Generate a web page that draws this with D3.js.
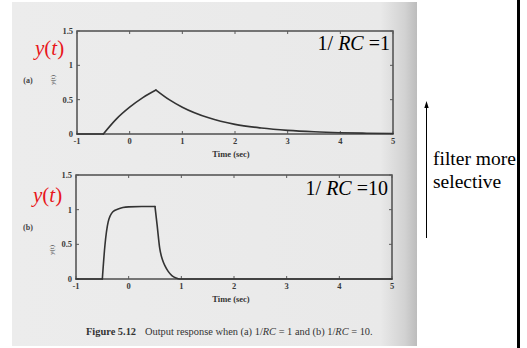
<!DOCTYPE html>
<html>
<head>
<meta charset="utf-8">
<script src="https://cdn.jsdelivr.net/npm/d3@7"></script>
<style>
  html, body { margin: 0; padding: 0; background: #fff; }
  svg { display: block; }
</style>
</head>
<body>
<svg id="chart" width="527" height="348"></svg>
<script>
// x ticks (time, sec) and y ticks shared by both panels
const xTicks = [-1, 0, 1, 2, 3, 4, 5];
const yTicks = [0, 0.5, 1, 1.5];
// input pulse edges: the response has a corner at each
const pulseEdges = [-0.5, 0.5];

// (a) 1/RC = 1
const timeA = [-1, -0.5, -0.25, 0, 0.25, 0.5, 0.75, 1, 1.5, 2, 2.5, 3, 3.5, 4, 4.5, 5];
const outA  = [0, 0, 0.22, 0.39, 0.53, 0.64, 0.50, 0.39, 0.235, 0.14, 0.087, 0.053, 0.032, 0.019, 0.012, 0.007];

// (b) 1/RC = 10
const timeB = [-1, -0.5, -0.45, -0.39, -0.3, -0.2, -0.11, 0, 0.25, 0.5, 0.54, 0.59, 0.64, 0.69, 0.75, 0.82, 0.9, 0.97, 5];
const outB  = [0, 0, 0.49, 0.82, 0.97, 1.01, 1.03, 1.04, 1.045, 1.045, 0.78, 0.44, 0.28, 0.19, 0.11, 0.05, 0.015, 0, 0];

const svg = d3.select('#chart');

// scanned page background with spine shadow
const defs = svg.append('defs');
const grad = defs.append('linearGradient').attr('id', 'page').attr('x1', 0).attr('x2', 1);
grad.append('stop').attr('offset', '0%').attr('stop-color', '#ececec');
grad.append('stop').attr('offset', '91%').attr('stop-color', '#e9e9e9');
grad.append('stop').attr('offset', '97%').attr('stop-color', '#d2d2d2');
grad.append('stop').attr('offset', '100%').attr('stop-color', '#bcbcbc');

svg.append('rect')
  .attr('x', 12).attr('y', 2)
  .attr('width', 405).attr('height', 344)
  .attr('fill', 'url(#page)');

const panels = [
  { time: timeA, out: outA, x: [77, 393], y: [134, 31], tag: '(a)', tagY: 80, labY: 80,
    red: [35, 55], note: '1/ RC =1', noteX: 390, noteY: 50 },
  { time: timeB, out: outB, x: [76, 392], y: [279, 175], tag: '(b)', tagY: 227, labY: 250,
    red: [33, 202], note: '1/ RC =10', noteX: 388, noteY: 195 }
];

const serif = '"Liberation Serif", "DejaVu Serif", serif';

panels.forEach(p => {
  const x = d3.scaleLinear().domain([-1, 5]).range(p.x);
  const y = d3.scaleLinear().domain([0, 1.5]).range(p.y);
  const g = svg.append('g');

  // frame
  g.append('rect')
    .attr('x', x(-1)).attr('y', y(1.5))
    .attr('width', x(5) - x(-1)).attr('height', y(0) - y(1.5))
    .attr('fill', 'none').attr('stroke', '#4e4e4e').attr('stroke-width', 1.5);

  // inner ticks on all four sides
  const tl = 3;
  xTicks.forEach(t => {
    g.append('line').attr('x1', x(t)).attr('x2', x(t)).attr('y1', y(0)).attr('y2', y(0) - tl)
      .attr('stroke', '#5a5a5a');
    g.append('line').attr('x1', x(t)).attr('x2', x(t)).attr('y1', y(1.5)).attr('y2', y(1.5) + tl)
      .attr('stroke', '#5a5a5a');
  });
  yTicks.forEach(t => {
    g.append('line').attr('x1', x(-1)).attr('x2', x(-1) + tl).attr('y1', y(t)).attr('y2', y(t))
      .attr('stroke', '#5a5a5a');
    g.append('line').attr('x1', x(5)).attr('x2', x(5) - tl).attr('y1', y(t)).attr('y2', y(t))
      .attr('stroke', '#5a5a5a');
  });

  // tick labels
  g.selectAll('.xt').data(xTicks).enter().append('text')
    .attr('x', d => x(d)).attr('y', y(0) + 10)
    .attr('text-anchor', 'middle')
    .style('font-family', serif).style('font-size', '8.5px').style('font-weight', 'bold').style('fill', '#3a3a3a')
    .text(d => d);
  g.selectAll('.yt').data(yTicks).enter().append('text')
    .attr('x', x(-1) - 4).attr('y', d => y(d) + 3)
    .attr('text-anchor', 'end')
    .style('font-family', serif).style('font-size', '8.5px').style('font-weight', 'bold').style('fill', '#3a3a3a')
    .text(d => d);

  // axis titles
  g.append('text')
    .attr('x', 231).attr('y', y(0) + 23)
    .attr('text-anchor', 'middle')
    .style('font-family', serif).style('font-size', '8.5px').style('font-weight', 'bold').style('fill', '#333')
    .text('Time (sec)');
  g.append('text')
    .attr('transform', `translate(${x(-1) - 22},${p.labY}) rotate(-90)`)
    .attr('text-anchor', 'middle')
    .style('font-family', serif).style('font-size', '7px').style('fill', '#444')
    .text('y(t)');
  g.append('text')
    .attr('x', 28).attr('y', p.tagY + 3)
    .attr('text-anchor', 'middle')
    .style('font-family', serif).style('font-size', '8px').style('font-weight', 'bold').style('fill', '#444')
    .text(p.tag);

  // response curve, smoothed piecewise between the pulse edges
  const pts = p.time.map((t, i) => [t, p.out[i]]);
  const cuts = [-Infinity, ...pulseEdges, Infinity];
  const line = d3.line().x(d => x(d[0])).y(d => y(d[1])).curve(d3.curveMonotoneX);
  for (let k = 0; k < cuts.length - 1; k++) {
    const seg = pts.filter(d => d[0] >= cuts[k] && d[0] <= cuts[k + 1]);
    g.append('path')
      .datum(seg)
      .attr('d', line)
      .attr('fill', 'none').attr('stroke', '#333').attr('stroke-width', 1.6)
      .attr('stroke-linejoin', 'round').attr('stroke-linecap', 'round');
  }

  // red overlay label y(t)
  const red = g.append('text')
    .attr('x', p.red[0]).attr('y', p.red[1])
    .style('font-family', '"Liberation Serif", serif').style('font-size', '21px').style('fill', '#e8161b');
  red.append('tspan').style('font-style', 'italic').text('y');
  red.append('tspan').text('(');
  red.append('tspan').style('font-style', 'italic').text('t');
  red.append('tspan').text(')');

  // 1/RC annotation
  const note = g.append('text')
    .attr('x', p.noteX).attr('y', p.noteY)
    .attr('text-anchor', 'end')
    .style('font-family', '"Liberation Serif", serif').style('font-size', '20px').style('fill', '#000');
  const parts = p.note.split('RC');
  note.append('tspan').text(parts[0]);
  note.append('tspan').style('font-style', 'italic').text('RC');
  note.append('tspan').text(' ' + parts[1]);
});

// figure caption
const cap = svg.append('text')
  .attr('x', 86).attr('y', 335)
  .style('font-family', serif).style('font-size', '10.4px').style('fill', '#333');
cap.append('tspan').style('font-weight', 'bold').text('Figure 5.12');
cap.append('tspan').attr('dx', 9).text('Output response when (a) 1/');
cap.append('tspan').style('font-style', 'italic').text('RC');
cap.append('tspan').text(' = 1 and (b) 1/');
cap.append('tspan').style('font-style', 'italic').text('RC');
cap.append('tspan').text(' = 10.');

// arrow and side note
svg.append('line')
  .attr('x1', 426.5).attr('x2', 426.5).attr('y1', 238).attr('y2', 106)
  .attr('stroke', '#000').attr('stroke-width', 1);
svg.append('path')
  .attr('d', 'M426.5,101 L424.3,108 L428.7,108 Z')
  .attr('fill', '#000');

svg.append('text')
  .attr('x', 433).attr('y', 165)
  .style('font-family', '"Liberation Serif", serif').style('font-size', '19.5px').style('fill', '#000')
  .text('filter more');
svg.append('text')
  .attr('x', 433).attr('y', 188)
  .style('font-family', '"Liberation Serif", serif').style('font-size', '19.5px').style('fill', '#000')
  .text('selective');

// page border on the right
svg.append('rect')
  .attr('x', 517).attr('y', 0).attr('width', 3).attr('height', 348)
  .attr('fill', '#000');
</script>
</body>
</html>
